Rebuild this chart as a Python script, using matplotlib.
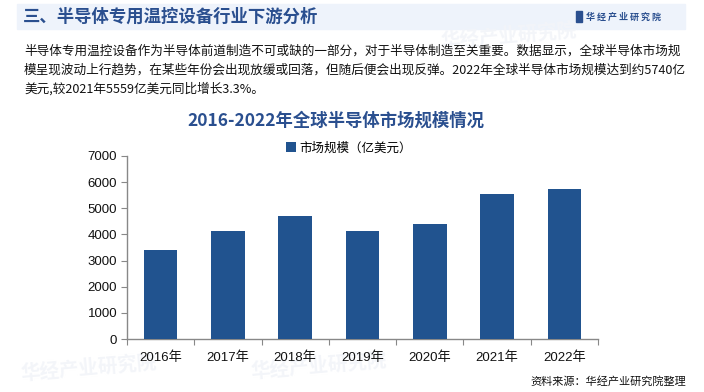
import matplotlib.pyplot as plt
from matplotlib.patches import Rectangle

years = ['2016年', '2017年', '2018年', '2019年', '2020年', '2021年', '2022年']
market_size = [3389, 4122, 4688, 4123, 4404, 5559, 5740]
y_ticks = [0, 1000, 2000, 3000, 4000, 5000, 6000, 7000]

CJK = ['Noto Sans CJK SC', 'DejaVu Sans']
LAT = ['Liberation Sans', 'Noto Sans CJK SC']
BLUE = '#21538F'
DARK = '#2A4F8F'

plt.rcParams['font.family'] = CJK

W, H = 704, 392
fig = plt.figure(figsize=(W / 100, H / 100), dpi=100)
fig.patch.set_facecolor('white')

def fx(x):
    return x / W

def fy(y):
    return 1 - y / H

# header band
fig.patches.append(Rectangle((fx(17), fy(29)), fx(685 - 17), 25 / H,
                             transform=fig.transFigure, color='#EEF3FB', zorder=-2))
fig.text(fx(23), fy(17), '三、半导体专用温控设备行业下游分析', fontsize=12.5,
         fontweight='bold', color=DARK, va='center', ha='left')
fig.patches.append(Rectangle((fx(576), fy(22)), fx(6), 11 / H,
                             transform=fig.transFigure, color=DARK, zorder=1))
fig.text(fx(586), fy(17), '华 经 产 业 研 究 院', fontsize=6.5, fontweight='bold',
         color=DARK, va='center', ha='left')

# faint watermarks, kept behind everything
for (wx, wy) in [(440, 36), (20, 368), (250, 366)]:
    fig.text(fx(wx), fy(wy), '华经产业研究院', fontsize=14, fontweight='bold',
             color='#F3F5F9', rotation=5, va='center', ha='left', zorder=-1)

# paragraph
lines = [
    '半导体专用温控设备作为半导体前道制造不可或缺的一部分，对于半导体制造至关重要。数据显示，全球半导体市场规',
    '模呈现波动上行趋势，在某些年份会出现放缓或回落，但随后便会出现反弹。2022年全球半导体市场规模达到约5740亿',
    '美元,较2021年5559亿美元同比增长3.3%。',
]
for i, ln in enumerate(lines):
    fig.text(fx(24), fy(51 + i * 19), ln, fontsize=9.1, color='#111111',
             va='center', ha='left')

# chart title
fig.text(fx(336), fy(121), '2016-2022年全球半导体市场规模情况', fontsize=12.5,
         fontweight='bold', color=DARK, va='center', ha='center')

ax = fig.add_axes([fx(127), fy(339), fx(598 - 127), (339 - 156) / H])
ax.set_facecolor('none')
x = range(len(years))
ax.bar(x, market_size, width=0.5, color=BLUE, label='市场规模（亿美元）', zorder=3)

ax.set_xlim(-0.5, len(years) - 0.5)
ax.set_ylim(0, 7000)
ax.set_yticks(y_ticks)
ax.set_yticklabels([str(t) for t in y_ticks], family=LAT, fontsize=9.5, color='#111111')
ax.set_xticks([i - 0.5 for i in range(len(years) + 1)], minor=False)
ax.set_xticklabels([])
ax.set_xticks(list(x), minor=True)
ax.set_xticklabels(years, minor=True, family=LAT, fontsize=9.5, color='#111111')
ax.tick_params(axis='x', which='major', length=4, color='#888888', direction='out')
ax.tick_params(axis='x', which='minor', length=0, pad=9)
ax.tick_params(axis='y', length=4, color='#888888', direction='out', pad=3)
for s in ['top', 'right']:
    ax.spines[s].set_visible(False)
for s in ['left', 'bottom']:
    ax.spines[s].set_color('#888888')
    ax.spines[s].set_linewidth(1)

ax.legend(loc='center', bbox_to_anchor=(fx(349), fy(148)),
          bbox_transform=fig.transFigure, frameon=False, fontsize=9,
          handlelength=0.8, handleheight=0.8, handletextpad=0.3)

fig.text(fx(686), fy(381), '资料来源：华经产业研究院整理', fontsize=8, color='#111111',
         va='center', ha='right')

fig.savefig('out.png', dpi=100)
